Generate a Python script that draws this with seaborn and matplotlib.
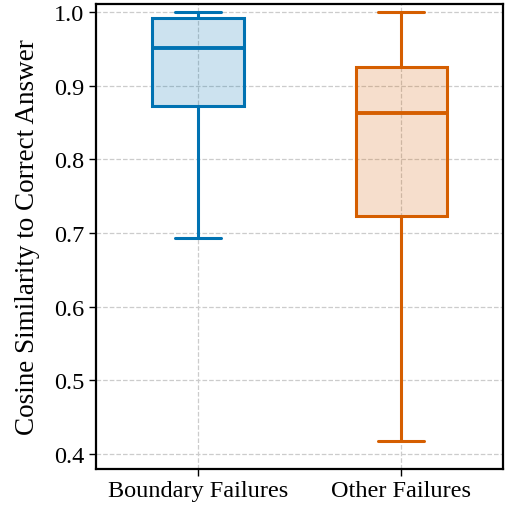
import numpy as np
import pandas as pd
import matplotlib
matplotlib.use("Agg")
import matplotlib.pyplot as plt
import seaborn as sns

# five-number summaries (min, q1, median, q3, max)
groups = ["Boundary Failures", "Other Failures"]
boundary_vals = [0.693, 0.872, 0.951, 0.992, 1.000]
other_vals = [0.418, 0.723, 0.863, 0.925, 1.000]
colors = ["#0072B2", "#D55E00"]

df = pd.DataFrame({
    "group": [groups[0]] * len(boundary_vals) + [groups[1]] * len(other_vals),
    "sim": boundary_vals + other_vals,
})

sns.set_style("white")
plt.rcParams["font.family"] = ["Liberation Serif", "DejaVu Serif"]
plt.rcParams["text.color"] = "black"
plt.rcParams["axes.labelcolor"] = "black"
plt.rcParams["xtick.color"] = "black"
plt.rcParams["ytick.color"] = "black"

fig, ax = plt.subplots(figsize=(5.07, 5.06), dpi=100)
sns.boxplot(data=df, x="group", y="sim", hue="group", palette=colors,
            whis=(0, 100), width=0.45, linewidth=2.2, showfliers=False,
            medianprops={"linewidth": 2.8},
            legend=False, ax=ax)

# light fill, coloured edges
for patch, c in zip(ax.patches, colors):
    patch.set_facecolor(matplotlib.colors.to_rgba(c, 0.2))
    patch.set_edgecolor(c)
for i, c in enumerate(colors):
    for line in ax.lines[i * 5:(i + 1) * 5]:
        line.set_color(c)

ax.set_ylim(0.38, 1.011)
ax.set_yticks([0.4, 0.5, 0.6, 0.7, 0.8, 0.9, 1.0])
ax.grid(True, linestyle="--", color="#cccccc", linewidth=0.9)
ax.set_axisbelow(True)
for s in ax.spines.values():
    s.set_visible(True)
    s.set_color("black")
    s.set_linewidth(1.6)
ax.tick_params(axis="both", which="major", length=5, width=1, labelsize=17.5,
               left=True, bottom=True, color="black", labelcolor="black")
ax.set_xlabel("")
ax.set_ylabel("Cosine Similarity to Correct Answer", fontsize=19.5,
              color="black", labelpad=10)

plt.subplots_adjust(left=0.19, right=0.992, top=0.99, bottom=0.072)
plt.savefig("out.png", dpi=100)
